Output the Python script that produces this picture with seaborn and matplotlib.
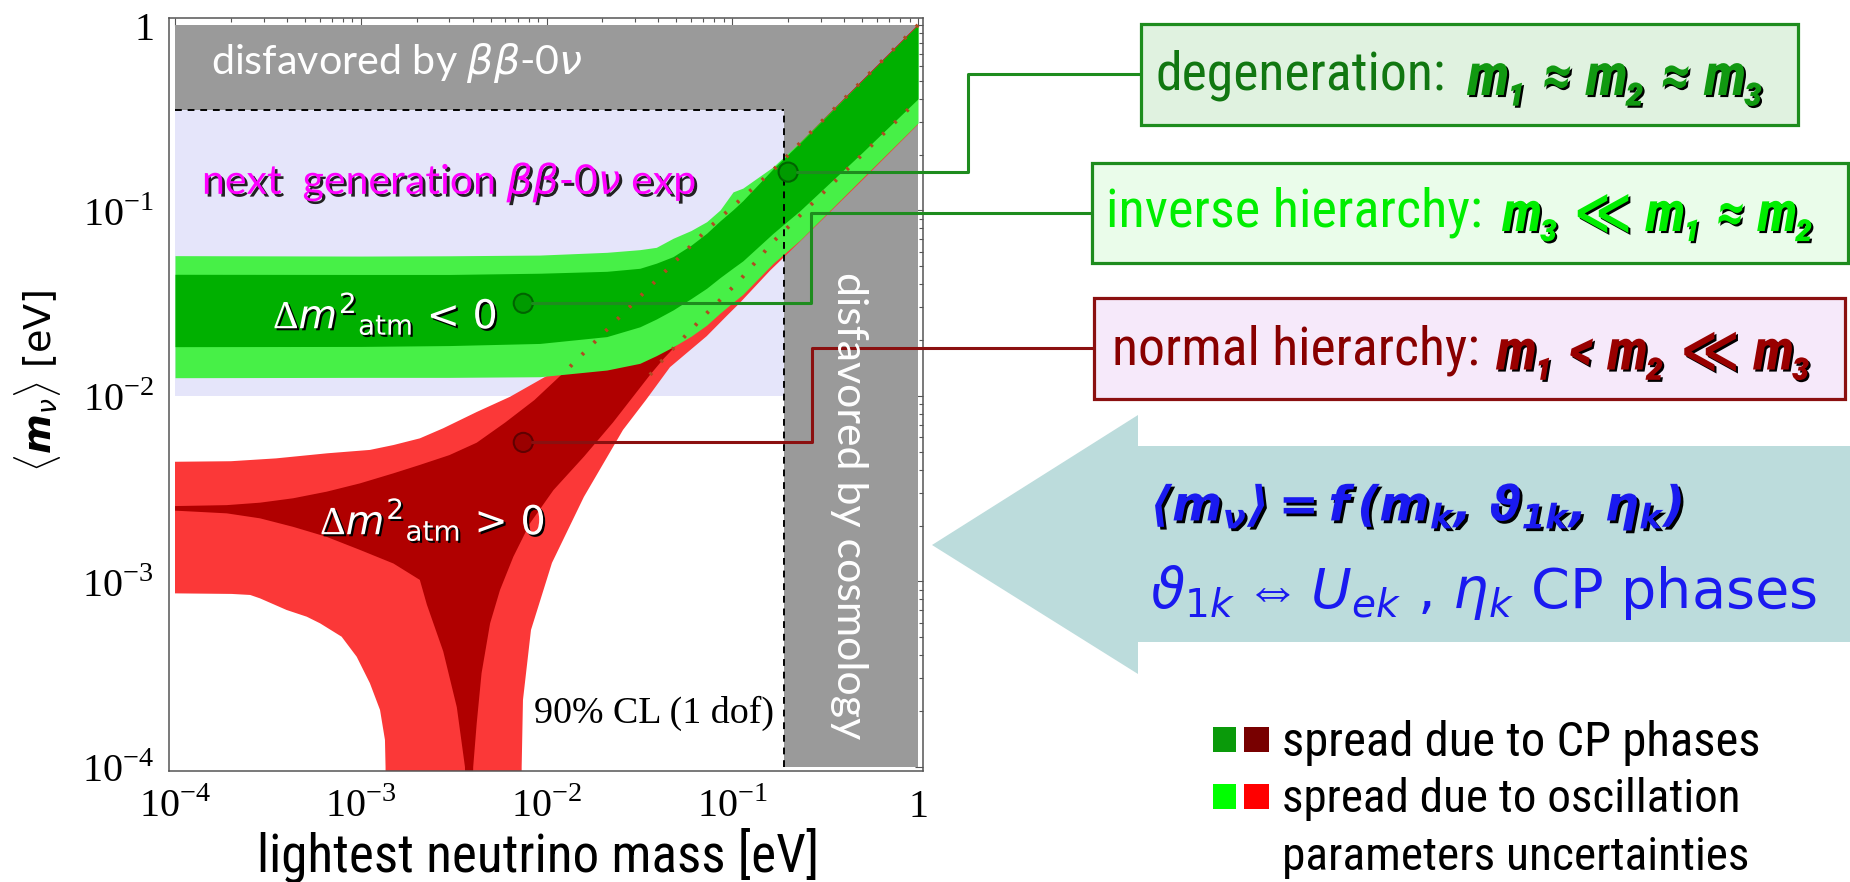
import numpy as np
import matplotlib
matplotlib.use("Agg")
import matplotlib.pyplot as plt
import matplotlib.patheffects as pe
from matplotlib.patches import Rectangle, Polygon
from matplotlib.lines import Line2D
from matplotlib.ticker import LogLocator, NullFormatter
from matplotlib import font_manager as fm
import seaborn as sns

# ---------------- data ----------------
decade_ticks = [1e-4, 1e-3, 1e-2, 1e-1, 1.0]
tick_labels = [r"$10^{-4}$", r"$10^{-3}$", r"$10^{-2}$", r"$10^{-1}$", r"$1$"]

# inverted hierarchy (green bands)
ih_x = [1e-4, 1e-3, 3e-3, 0.0092, 0.0211, 0.0318, 0.039, 0.048, 0.06, 0.0728,
        0.086, 0.101, 0.114, 0.166, 0.232, 0.5, 1.0]
ih_light_hi = [0.0571, 0.0568, 0.0570, 0.0575, 0.0595, 0.0615, 0.0633, 0.0708, 0.078,
               0.087, 0.1007, 0.126, 0.132, 0.172, 0.235, 0.5, 1.0]
ih_dark_hi = [0.0453, 0.0452, 0.0452, 0.0459, 0.0470, 0.0488, 0.0520, 0.0564, 0.065,
              0.0754, 0.088, 0.101, 0.113, 0.168, 0.232, 0.5, 1.0]
ih_dark_lo = [0.01845, 0.0185, 0.0187, 0.0192, 0.0209, 0.0236, 0.0260, 0.0291, 0.0335,
              0.0381, 0.0435, 0.049, 0.0535, 0.0754, 0.100, 0.205, 0.40]
ih_light_lo = [0.01255, 0.0126, 0.0126, 0.0127, 0.0138, 0.0150, 0.0165, 0.0184, 0.021,
               0.0241, 0.028, 0.032, 0.0353, 0.0519, 0.0693, 0.149, 0.296]

# normal hierarchy (red bands)
nh_light_hi_x = [1e-4, 2.0e-4, 3.5e-4, 6.6e-4, 1.12e-3, 1.5e-3, 2.08e-3, 2.78e-3, 4.21e-3,
                 6.36e-3, 0.01, 0.02, 0.05, 0.1, 0.2, 0.5, 1.0]
nh_light_hi_y = [0.00442, 0.00445, 0.00461, 0.00491, 0.00512, 0.00544, 0.00591, 0.0067,
                 0.0082, 0.0099, 0.0128, 0.0225, 0.052, 0.101, 0.2, 0.5, 1.0]
nh_light_lo_left_x = [1e-4, 2.02e-4, 2.54e-4, 2.87e-4, 3.99e-4, 5.12e-4, 6.04e-4, 7.89e-4,
                      9.51e-4, 1.12e-3, 1.27e-3, 1.35e-3, 1.36e-3, 1.37e-3]
nh_light_lo_left_y = [0.000863, 0.000857, 0.000846, 0.000811, 0.000702, 0.000646, 0.000595,
                      0.000504, 0.000393, 0.000283, 0.000203, 0.00014, 0.0001, 1e-5]
nh_light_lo_right_x = [7.30e-3, 7.35e-3, 7.47e-3, 8.25e-3, 0.0107, 0.0159, 0.0258, 0.0343,
                       0.0462, 0.0728, 0.0933, 0.110, 0.160, 0.232, 0.5, 1.0]
nh_light_lo_right_y = [1e-5, 1e-4, 0.00023, 0.000548, 0.00126, 0.00286, 0.00656, 0.00952,
                       0.0143, 0.021, 0.027, 0.0318, 0.0475, 0.068, 0.145, 0.29]
nh_dark_hi_x = [1e-4, 1.9e-4, 2.87e-4, 4.33e-4, 6.56e-4, 9.9e-4, 1.5e-3, 2.08e-3, 3.0e-3,
                4.21e-3, 6.0e-3, 0.0086, 0.0134, 0.0318, 0.0728, 0.166, 0.5, 1.0]
nh_dark_hi_y = [0.00255, 0.00258, 0.00266, 0.00281, 0.00305, 0.00338, 0.00383, 0.00425,
                0.0048, 0.0056, 0.0072, 0.0095, 0.0144, 0.0343, 0.0785, 0.165, 0.5, 1.0]
nh_dark_lo_left_x = [1e-4, 1.9e-4, 2.87e-4, 4.33e-4, 6.56e-4, 9.9e-4, 1.5e-3, 2.08e-3,
                     2.27e-3, 2.78e-3, 3.29e-3, 3.64e-3, 3.8e-3]
nh_dark_lo_left_y = [0.00241, 0.00233, 0.00219, 0.00197, 0.00174, 0.00148, 0.00125, 0.00102,
                     0.00075, 0.00042, 0.00021, 1e-4, 1e-5]
nh_dark_lo_right_x = [3.95e-3, 4.03e-3, 4.21e-3, 4.47e-3, 4.97e-3, 5.62e-3, 6.63e-3, 8.15e-3,
                      0.0109, 0.0159, 0.0228, 0.0361, 0.0425, 0.0728, 0.110, 0.166, 0.5, 1.0]
nh_dark_lo_right_y = [1e-5, 1e-4, 0.000172, 0.00032, 0.000595, 0.0009, 0.00136, 0.00206,
                      0.00311, 0.00471, 0.0072, 0.013, 0.0158, 0.0279, 0.0422, 0.0679, 0.2, 0.395]

bb0nu_limit = 0.35      # disfavored by bb-0nu above this
cosmo_limit = 0.19      # disfavored by cosmology right of this
next_gen_limit = 0.01   # next generation experiments reach

dots_x = [0.2, 0.0075, 0.0075]
dots_y = [0.161, 0.0316, 0.00562]

# ---------------- style ----------------
sns.set_theme(style="white")
plt.rcParams.update({
    "font.family": ["DejaVu Sans"],
    "mathtext.fontset": "custom",
    "mathtext.rm": "Liberation Serif",
    "mathtext.it": "DejaVu Sans:italic",
    "mathtext.bf": "DejaVu Sans:italic:bold",
    "mathtext.sf": "DejaVu Sans",
})

avail = {f.name for f in fm.fontManager.ttflist}
cond_family, cond_stretch = None, "normal"
for cand in ["Liberation Sans Narrow", "Roboto Condensed", "Open Sans Condensed", "DejaVu Sans Condensed"]:
    if cand in avail:
        cond_family = cand
        break
if cond_family is None:
    if any(f.name == "DejaVu Sans" and str(f.stretch) in ("condensed", "semi-condensed")
           for f in fm.fontManager.ttflist):
        cond_family, cond_stretch = "DejaVu Sans", "condensed"
    else:
        cond_family = "Roboto" if "Roboto" in avail else "DejaVu Sans"
COND = dict(family=[cond_family, "DejaVu Sans"], fontstretch=cond_stretch)
SANS2 = ["Lato", "DejaVu Sans"] if "Lato" in avail else ["DejaVu Sans"]

W, H = 1850, 882
fig = plt.figure(figsize=(W / 100, H / 100), dpi=100)
fig.patch.set_facecolor("white")

def fx(x):
    return x / W

def fy(y):
    return 1 - y / H

# axes frame 169..923 x 18..771 px, data 1e-4..1 on 175..918 x 767..25
ax = fig.add_axes([fx(169), fy(771), (923 - 169) / W, (771 - 18) / H])
ax.set_xscale("log")
ax.set_yscale("log")
ax.set_xlim(10 ** -4.0323, 10 ** 0.0269)
ax.set_ylim(10 ** -4.0216, 10 ** 0.0377)
ax.set_facecolor("white")

GRAY = "#9a9a9a"
LAV = "#e5e5fa"
LGREEN = "#47f047"
DGREEN = "#00b000"
LRED = "#fb3838"
DRED = "#b00000"

# regions
ax.add_patch(Rectangle((1e-4, next_gen_limit), cosmo_limit - 1e-4, bb0nu_limit - next_gen_limit,
                       fc=LAV, ec="none", zorder=1))
ax.add_patch(Rectangle((1e-4, bb0nu_limit), 1 - 1e-4, 1 - bb0nu_limit, fc=GRAY, ec="none", zorder=1))
ax.add_patch(Rectangle((cosmo_limit, 1e-4), 1 - cosmo_limit, bb0nu_limit - 1e-4, fc=GRAY, ec="none", zorder=1))

# normal hierarchy
nl_x = nh_light_hi_x + nh_light_lo_right_x[::-1] + nh_light_lo_left_x[::-1]
nl_y = nh_light_hi_y + nh_light_lo_right_y[::-1] + nh_light_lo_left_y[::-1]
ax.fill(nl_x, nl_y, color=LRED, lw=0, zorder=2)
nd_x = nh_dark_hi_x + nh_dark_lo_right_x[::-1] + nh_dark_lo_left_x[::-1]
nd_y = nh_dark_hi_y + nh_dark_lo_right_y[::-1] + nh_dark_lo_left_y[::-1]
ax.fill(nd_x, nd_y, color=DRED, lw=0, zorder=2.1)

# inverted hierarchy
ax.fill_between(ih_x, ih_light_lo, ih_light_hi, color=LGREEN, lw=0, zorder=3)
ax.fill_between(ih_x, ih_dark_lo, ih_dark_hi, color=DGREEN, lw=0, zorder=3.1)

# dotted NH boundaries over the green
up_sel = [(x, y) for x, y in zip(nh_dark_hi_x, nh_dark_hi_y) if x >= 0.0134]
lo_sel = [(x, y) for x, y in zip(nh_dark_lo_right_x, nh_dark_lo_right_y) if x >= 0.0361]
for sel in (up_sel, lo_sel):
    sns.lineplot(x=[p[0] for p in sel], y=[p[1] for p in sel], ax=ax, color="#b04a20",
                 lw=2.8, linestyle=(0, (0.7, 3.6)), estimator=None, sort=False, zorder=4)

# dashed limits
ax.plot([1e-4, cosmo_limit], [bb0nu_limit, bb0nu_limit], color="black", lw=1.4,
        linestyle=(0, (3.5, 3)), zorder=5)
ax.plot([cosmo_limit, cosmo_limit], [1e-4, bb0nu_limit], color="black", lw=1.4,
        linestyle=(0, (3.5, 3)), zorder=5)

# dots
ax.scatter(dots_x, dots_y, s=190, c=["#009a00", "#009a00", "#9a0000"],
           edgecolors=["#006400", "#006400", "#600000"], linewidths=1.5, zorder=8, clip_on=False)

# ticks
ax.set_xticks(decade_ticks)
ax.set_xticklabels(tick_labels)
ax.set_yticks(decade_ticks)
ax.set_yticklabels(tick_labels)
for a in (ax.xaxis, ax.yaxis):
    a.set_minor_locator(LogLocator(base=10, subs=np.arange(2, 10)))
    a.set_minor_formatter(NullFormatter())
ax.tick_params(which="both", direction="in", top=True, right=True, color="#555555",
               labelcolor="black", width=0.8)
ax.tick_params(which="major", length=5.8, pad=11, labelsize=29)
ax.tick_params(which="minor", length=3.2)
for sp in ax.spines.values():
    sp.set_color("#555555")
    sp.set_linewidth(1.1)
ax.grid(False)

renderer = fig.canvas.get_renderer()

def put(s, x, y, w=None, h=None, ha="left", va="center", rotation=0, **kw):
    t = fig.text(fx(x), fy(y), s, ha=ha, va=va, rotation=rotation, fontsize=20, **kw)
    if w is not None or h is not None:
        bb = t.get_window_extent(renderer)
        f = (w / bb.width) if w is not None else (h / bb.height)
        t.set_fontsize(20 * f)
    return t

def shadow(dx=1.5, dy=-1.5, c="black"):
    return [pe.SimplePatchShadow(offset=(dx, dy), shadow_rgbFace=c, alpha=1.0), pe.Normal()]

# texts inside the plot
put(r"disfavored by $\beta\beta$-0$\nu$", 211, 63, w=373, color="white", family=SANS2)
put(r"next  generation $\beta\beta$-0$\nu$ exp", 202, 183, w=495, color="#ff00ff", family=SANS2,
    path_effects=shadow(2, -2, "#222222"))
put(r"$\Delta m^{\mathsf{2}}{}_{\mathsf{atm}}$ < 0", 273, 314, w=225, color="white",
    family=["DejaVu Sans"], path_effects=shadow(1.5, -1.5))
put(r"$\Delta m^{\mathsf{2}}{}_{\mathsf{atm}}$ > 0", 320, 520, w=226, color="white",
    family=["DejaVu Sans"], path_effects=shadow(1.5, -1.5))
put("90% CL (1 dof)", 534, 713, w=240, color="black", family=["Liberation Serif", "DejaVu Serif"])
put("disfavored by cosmology", 849, 506, h=467, ha="center", rotation=-90, color="white", family=SANS2)

# axis labels
put("lightest neutrino mass [eV]", 538, 855, w=560, ha="center", color="black", **COND)
put(r"$\langle\mathbf{m}_{\nu}\rangle$ [eV]", 38, 381, h=183, ha="center", rotation=90, color="black",
    family=["DejaVu Sans"])

# boxes
GLINE = "#1e8c1e"
RLINE = "#8b1010"
boxes = [
    (1141, 24, 1798, 125, "#e0f2e0", GLINE),
    (1092, 163, 1848, 263, "#eafcea", GLINE),
    (1094, 298, 1845, 399, "#f6e9fa", RLINE),
]
for x0, y0, x1, y1, fc, ec in boxes:
    fig.add_artist(Rectangle((fx(x0), fy(y1)), (x1 - x0) / W, (y1 - y0) / H, transform=fig.transFigure,
                             fc=fc, ec=ec, lw=2.3, zorder=1))

put("degeneration:", 1156, 75, w=290, color="#117711", **COND)
put("m\u2081 \u2248 m\u2082 \u2248 m\u2083", 1467, 79, w=299, color="#119911", fontweight="bold",
    fontstyle="italic", path_effects=shadow(1.5, -1.5), **COND)
put("inverse hierarchy:", 1106, 212, w=376, color="#00ee00", **COND)
put("m\u2083 \u226a m\u2081 \u2248 m\u2082", 1502, 216, w=314, color="#00ee00", fontweight="bold",
    fontstyle="italic", path_effects=shadow(1.5, -1.5), **COND)
put("normal hierarchy:", 1112, 350, w=367, color="#880000", **COND)
put("m\u2081 < m\u2082 \u226a m\u2083", 1496, 354, w=317, color="#990000", fontweight="bold",
    fontstyle="italic", path_effects=shadow(1.5, -1.5), **COND)

# connectors
conns = [(0, 968, 74, 1141, GLINE), (1, 811, 213, 1092, GLINE), (2, 812, 348, 1094, RLINE)]
for i, ex, by, bl, col in conns:
    dxp, dyp = ax.transData.transform((dots_x[i], dots_y[i]))
    py = H - dyp
    sx = dxp + 9
    fig.add_artist(Line2D([fx(sx), fx(ex), fx(ex), fx(bl)], [fy(py), fy(py), fy(by), fy(by)],
                          transform=fig.transFigure, color=col, lw=2.2, zorder=2))

# big arrow
arrow_pts = [(932, 545), (1138, 415), (1138, 446), (1850, 446), (1850, 642), (1138, 642), (1138, 674)]
fig.add_artist(Polygon([(fx(x), fy(y)) for x, y in arrow_pts], closed=True, transform=fig.transFigure,
                       fc="#bcdcdc", ec="none", zorder=1))
put(r"$\mathbf{\langle m_{\nu}\rangle = f\,(m_{k},\,\vartheta_{1k},\,\eta_{k})}$", 1150, 507, w=534,
    color="#1a1af0", path_effects=shadow(2, -2))
put(r"$\vartheta_{\mathsf{1}k}\Leftrightarrow U_{ek}$ , $\eta_{k}$ CP phases", 1150, 592, w=669,
    color="#1a1af0")

# legend
for (x0, x1, y0, y1, c) in [(1213, 1236, 727, 752, "#0a9a0a"), (1244, 1269, 727, 752, "#780000"),
                            (1213, 1236, 784, 809, "#00ff00"), (1244, 1269, 784, 809, "#ff0000")]:
    fig.add_artist(Rectangle((fx(x0), fy(y1)), (x1 - x0) / W, (y1 - y0) / H, transform=fig.transFigure,
                             fc=c, ec="none", zorder=1))
put("spread due to CP phases", 1282, 743, w=478, color="black", **COND)
put("spread due to oscillation", 1282, 799, w=458, color="black", **COND)
put("parameters uncertainties", 1282, 857, w=467, color="black", **COND)

fig.savefig("out.png", dpi=100)
